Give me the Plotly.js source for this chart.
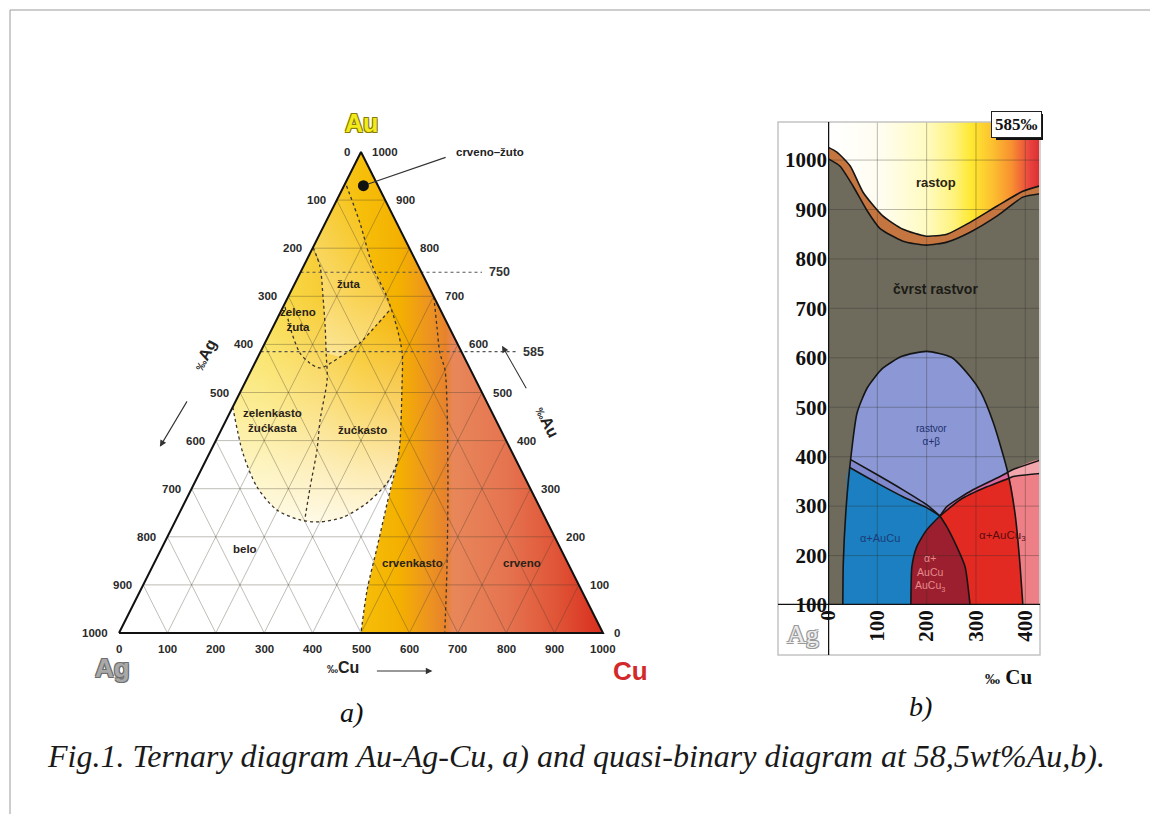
<!DOCTYPE html>
<html><head><meta charset="utf-8">
<script src="https://cdn.plot.ly/plotly-3.0.1.min.js"></script>
<style>html,body{margin:0;padding:0;background:#fff}</style>
</head><body>
<div id="chart" style="width:1157px;height:814px"></div>
<script>
// ================= a) ternary diagram Au-Ag-Cu (values in per mille) =================
const edgeTicks = [0,100,200,300,400,500,600,700,800,900,1000];
const gridVals  = [100,200,300,400,500,600,700,800,900];
// colour-zone boundaries, points given as ‰Au / ‰Cu
const bndC_au = [930,852,761,699,636,582,505,395,353,312,270,179,89,0];
const bndC_cu = [5,72,144,204,256,294,332,383,398,408,419,444,468,500];
const bndD_au = [699,636,582,547,339,131,0];
const bndD_cu = [301,339,372,400,510,612,673];
const bndE_au = [470,374,304,256,235,231,241,270,312,353];
const bndE_cu = [0,69,133,198,257,300,343,377,398,398];
const bndA_au = [802,761,699,636,582,526,443,380,304,233];
const bndA_cu = [0,35,72,108,137,167,194,219,243,267];
const bndB_au = [678,624,582,561,551,574,603,640,672];
const bndB_cu = [4,45,83,114,140,170,196,212,224];
const levelAu    = [750,585];
const levelEndCu = [375,528];
const levelText  = ['750','585'];
const redYellowAu = 930, redYellowCu = 40;
const zoneNames = ['žuta','zeleno<br>žuta','zelenkasto<br>žućkasta','žućkasto','belo','crvenkasto','crveno'];
const zoneAu    = [726,651,441,422,175,146,146];
const zoneCu    = [112,45,96,293,172,534,760];

// ================= b) quasi-binary section at 585 ‰ Au =================
const cuTicks2  = [0,100,200,300,400];
const tempTicks = [100,200,300,400,500,600,700,800,900,1000];
const cuLiq = [0,18,45,71,111,152,199,241,288,343,395,430];
const tLiq  = [1026,1016,988,935,887,860,846,850,874,907,937,948];
const cuSol = [0,24,51,79,105,152,199,241,288,343,395,430];
const tSol  = [1003,988,947,898,862,836,828,834,854,887,925,932];
const domeLcu = [30,30,31,36,44,59,80,110,150,200];
const domeLt  = [90,100,185,286,378,489,540,578,603,613];
const domeRcu = [200,250,288,310,335,363,379,389,395,396];
const domeRt  = [613,601,562,530,469,374,286,185,100,90];
const blueUpCu = [44,99,152,200,227];
const blueUpT  = [378,347,319,297,280];
const bandUpCu = [46,99,152,200,227];
const bandUpT  = [394,364,333,303,280];
const dRedLcu = [227,200,180,170,168,168];
const dRedLt  = [280,252,218,177,100,90];
const dRedRcu = [227,241,261,278,288,289];
const dRedRt  = [280,258,218,177,100,90];
const pinkUpCu = [227,241,294,349,364,375,430];
const pinkUpT  = [280,299,333,360,368,374,393];
const pinkLoCu = [227,268,322,366,375,430];
const pinkLoT  = [280,313,339,356,360,366];

// ---------- helpers ----------
const tx = (au,cu) => cu + au/2;           // horizontal position in the (stretched) triangle
function tern(auArr, cuArr){ return {x: auArr.map((a,i)=>tx(a,cuArr[i])), y: auArr.slice()}; }
const rev = a => a.slice().reverse();
const traces = [];

// ---------- left panel ----------
{
  const au = [470,1000,0, ...rev(bndC_au.slice(8)), ...rev(bndE_au.slice(0,-1))];
  const cu = [0,0,1000, ...rev(bndC_cu.slice(8)), ...rev(bndE_cu.slice(0,-1))];
  const p = tern(au,cu);
  traces.push({type:'scatter', mode:'lines', x:p.x, y:p.y, fill:'toself', line:{width:0},
    fillgradient:{type:'horizontal', start:0, stop:1000, colorscale:[
      [0,'#fcee7c'],[0.30,'#f9e04e'],[0.42,'#f7cc36'],[0.50,'#f6bf0a'],[0.58,'#f4b000'],
      [0.64,'#ed9420'],[0.675,'#e7822c'],[0.69,'#e8875a'],[0.80,'#e57450'],[0.90,'#e05638'],[1,'#d92e1e']]},
    hoverinfo:'skip'});
}
{
  const au = [470,700, ...bndC_au.slice(3,9), ...rev(bndE_au.slice(0,-1))];
  const cu = [0,0, ...bndC_cu.slice(3,9), ...rev(bndE_cu.slice(0,-1))];
  const p = tern(au,cu);
  traces.push({type:'scatter', mode:'lines', x:p.x, y:p.y, fill:'toself', line:{width:0},
    fillgradient:{type:'vertical', start:231, stop:700, colorscale:[
      [0,'rgba(255,253,243,0.93)'],[0.25,'rgba(255,251,236,0.72)'],[0.55,'rgba(255,249,225,0.42)'],[1,'rgba(255,248,220,0)']]},
    hoverinfo:'skip'});
}
{
  const au = [...bndA_au.slice(0,5), ...bndB_au.slice(5), ...rev(bndC_au.slice(0,4)), 802];
  const cu = [...bndA_cu.slice(0,5), ...bndB_cu.slice(5), ...rev(bndC_cu.slice(0,4)), 0];
  const p = tern(au,cu);
  traces.push({type:'scatter', mode:'lines', x:p.x, y:p.y, fill:'toself', line:{width:0},
    fillgradient:{type:'vertical', start:550, stop:930, colorscale:[
      [0,'rgba(255,246,215,0.5)'],[0.5,'rgba(255,246,215,0.3)'],[1,'rgba(255,246,215,0)']]},
    hoverinfo:'skip'});
}
{
  const gx=[], gy=[];
  const add=(a1,c1,a2,c2)=>{gx.push(tx(a1,c1),tx(a2,c2),null); gy.push(a1,a2,null);};
  gridVals.forEach(v=>{ add(v,0,v,1000-v); add(0,v,1000-v,v); add(0,1000-v,1000-v,0); });
  traces.push({type:'scatter', mode:'lines', x:gx, y:gy, line:{color:'rgba(70,62,45,0.38)', width:0.9}, hoverinfo:'skip'});
}
[[bndA_au,bndA_cu],[bndB_au,bndB_cu],[bndC_au,bndC_cu],[bndD_au,bndD_cu],[bndE_au,bndE_cu]].forEach(b=>{
  const p = tern(b[0],b[1]);
  traces.push({type:'scatter', mode:'lines', x:p.x, y:p.y, line:{color:'#3b342a', width:1.3, dash:'dot', shape:'spline', smoothing:0.8}, hoverinfo:'skip'});
});
levelAu.forEach((a,i)=>{
  traces.push({type:'scatter', mode:'lines', x:[tx(a,0), tx(a,levelEndCu[i])], y:[a,a],
    line:{color:'#555', width:1.1, dash:'dot'}, hoverinfo:'skip'});
});
{
  const p = tern([0,1000,0,0],[0,0,1000,0]);
  traces.push({type:'scatter', mode:'lines', x:p.x, y:p.y, line:{color:'#111', width:2}, hoverinfo:'skip'});
}
traces.push({type:'scatter', mode:'markers', x:[tx(redYellowAu,redYellowCu)], y:[redYellowAu],
  marker:{color:'#111', size:11}, hoverinfo:'skip'});

// ---------- right panel ----------
const R = {xaxis:'x2', yaxis:'y2', hoverinfo:'skip'};
function fillPoly(xs, ys, color, extra){
  traces.push(Object.assign({type:'scatter', mode:'lines', x:xs, y:ys, fill:'toself', fillcolor:color,
    line:{width:0, shape:'spline', smoothing:0.6}}, R, extra||{}));
}
fillPoly([...cuLiq,430,0],[...tLiq,1100,1100],'#fff',{fillgradient:{type:'horizontal',start:0,stop:428,colorscale:[
  [0,'#ffffff'],[0.25,'#fffdf0'],[0.47,'#fffbc0'],[0.6,'#fff27a'],[0.68,'#ffe830'],[0.78,'#fcc030'],[0.87,'#f89030'],[0.96,'#e84040'],[1,'#dc3030']]}});
fillPoly([...cuSol,430,0],[...tSol,90,90],'#6e6b5d');
fillPoly([...cuLiq, ...rev(cuSol)],[...tLiq, ...rev(tSol)],'#c57640');
fillPoly([...domeLcu, ...domeRcu.slice(1)],[...domeLt, ...domeRt.slice(1)],'#8b98d5');
fillPoly([...pinkUpCu.slice(4),430, ...rev(domeRcu.slice(5)), pinkLoCu[3]],
         [...pinkUpT.slice(4),90, ...rev(domeRt.slice(5)), pinkLoT[3]],'#ee7f86');
fillPoly([...pinkUpCu.slice(4), ...rev(pinkLoCu.slice(3))],[...pinkUpT.slice(4), ...rev(pinkLoT.slice(3))],'#f3a7ad');
fillPoly([...pinkUpCu.slice(0,5), ...rev(pinkLoCu.slice(0,4))],[...pinkUpT.slice(0,5), ...rev(pinkLoT.slice(0,4))],'#d76aa5');
fillPoly([...pinkLoCu.slice(0,4), ...domeRcu.slice(6), ...rev(dRedRcu.slice(1))],
         [...pinkLoT.slice(0,4), ...domeRt.slice(6), ...rev(dRedRt.slice(1))],'#e22a22');
fillPoly([...dRedRcu, ...rev(dRedLcu)],[...dRedRt, ...rev(dRedLt)],'#9b1f2e');
fillPoly([...domeLcu.slice(0,5), ...blueUpCu.slice(1), ...dRedLcu.slice(1)],
         [...domeLt.slice(0,5), ...blueUpT.slice(1), ...dRedLt.slice(1)],'#1b7fc1');
fillPoly([...bandUpCu, ...rev(blueUpCu)],[...bandUpT, ...rev(blueUpT)],'#7f88cc');
{
  const gx=[], gy=[];
  tempTicks.forEach(t=>{gx.push(0,430,null); gy.push(t,t,null);});
  cuTicks2.slice(1).forEach(c=>{gx.push(c,c,null); gy.push(90,1100,null);});
  traces.push(Object.assign({type:'scatter', mode:'lines', x:gx, y:gy, line:{color:'rgba(45,45,35,0.33)', width:1}}, R));
}
[[cuLiq,tLiq],[cuSol,tSol],[[...domeLcu, ...domeRcu.slice(1)],[...domeLt, ...domeRt.slice(1)]],
 [blueUpCu,blueUpT],[bandUpCu,bandUpT],[dRedLcu,dRedLt],[dRedRcu,dRedRt],[pinkUpCu,pinkUpT],[pinkLoCu,pinkLoT]]
 .forEach(c=>{
  traces.push(Object.assign({type:'scatter', mode:'lines', x:c[0], y:c[1], line:{color:'#151515', width:1.6, shape:'spline', smoothing:0.6}}, R));
});

// ---------- layout geometry ----------
const W=1157, H=814;
const TRI = {px0:119, sx:0.484, py0:633, sy:0.481};
const xDom1=[0,0.62];
const xRange1=[(xDom1[0]*W-TRI.px0)/TRI.sx, (xDom1[1]*W-TRI.px0)/TRI.sx];
const yRange1=[(TRI.py0-H)/TRI.sy, TRI.py0/TRI.sy];
const BIN = {px0:828, s:0.4933, pyBase:605, pyTop:122};
const xRange2=[0,428], yRange2=[100,1077];
const xDom2=[BIN.px0/W, (BIN.px0+xRange2[1]*BIN.s)/W];
const yDom2=[1-BIN.pyBase/H, 1-BIN.pyTop/H];
const px = v=>v/W, py = v=>1-v/H;

const sans = 'Liberation Sans, Arial, sans-serif';
const serif = 'Liberation Serif, Times New Roman, serif';
const ann = [];
const tickFont = {family:sans,size:11.5,color:'#2a2a2a',weight:'bold'};
edgeTicks.forEach(v=>{
  ann.push({xref:'x',yref:'y',x:tx(1000-v,0),y:1000-v,text:String(v),showarrow:false,xanchor:'right',yanchor:'middle',xshift:-9,font:tickFont});
  ann.push({xref:'x',yref:'y',x:tx(v,1000-v),y:v,text:String(v),showarrow:false,xanchor:'left',yanchor:'middle',xshift:9,font:tickFont});
  ann.push({xref:'x',yref:'y',x:tx(0,v),y:0,text:String(v),showarrow:false,xanchor:'center',yanchor:'top',yshift:-8,font:tickFont});
});
ann.push({xref:'x',yref:'y',x:tx(1000,0),y:1000,yshift:29,text:'Au',showarrow:false,xanchor:'center',yanchor:'middle',
  font:{family:sans,size:25,color:'#f3ea1c',weight:'bold',shadow:'1px 1px 0 #8a7c00, -1px -1px 0 #8a7c00, 1px -1px 0 #8a7c00, -1px 1px 0 #8a7c00'}});
ann.push({xref:'x',yref:'y',x:tx(0,0),y:0,xshift:-7,yshift:-35,text:'Ag',showarrow:false,xanchor:'center',yanchor:'middle',
  font:{family:sans,size:26,color:'#a9a9a9',weight:'bold',shadow:'1px 1px 0 #6e6e6e, -1px -1px 0 #6e6e6e, 1px -1px 0 #6e6e6e, -1px 1px 0 #6e6e6e'}});
ann.push({xref:'x',yref:'y',x:tx(0,1000),y:0,xshift:27,yshift:-38,text:'Cu',showarrow:false,xanchor:'center',yanchor:'middle',
  font:{family:sans,size:26,color:'#d22a2a',weight:'bold'}});
ann.push({xref:'x',yref:'y',x:tx(578,-111),y:578,text:'<span style="font-size:11px">‰</span>Ag',textangle:-63,showarrow:false,
  font:{family:sans,size:16,color:'#222',weight:'bold'}});
ann.push({xref:'x',yref:'y',x:tx(439,664),y:439,text:'<span style="font-size:11px">‰</span>Au',textangle:63,showarrow:false,
  font:{family:sans,size:16,color:'#222',weight:'bold'}});
ann.push({xref:'x',yref:'y',x:tx(-71,498),y:-71,text:'<span style="font-size:11px">‰</span>Cu',showarrow:false,
  font:{family:sans,size:16,color:'#222',weight:'bold'}});
ann.push({xref:'x',yref:'y',x:tx(387,-109),y:387,ax:28,ay:-47,text:'',showarrow:true,arrowhead:2,arrowsize:1.2,arrowwidth:1.1,arrowcolor:'#333'});
ann.push({xref:'x',yref:'y',x:tx(597,493),y:597,ax:25,ay:44,text:'',showarrow:true,arrowhead:2,arrowsize:1.2,arrowwidth:1.1,arrowcolor:'#333'});
ann.push({xref:'x',yref:'y',x:tx(-79,687),y:-79,ax:-57,ay:0,text:'',showarrow:true,arrowhead:2,arrowsize:1.2,arrowwidth:1.1,arrowcolor:'#333'});
levelAu.forEach((a,i)=>ann.push({xref:'x',yref:'y',x:tx(a,levelEndCu[i]),y:a,xshift:5,xanchor:'left',text:levelText[i],showarrow:false,
  font:{family:sans,size:12.5,color:'#333',weight:'bold'}}));
zoneNames.forEach((n,i)=>ann.push({xref:'x',yref:'y',x:tx(zoneAu[i],zoneCu[i]),y:zoneAu[i],text:n,showarrow:false,
  font:{family:sans,size:11.5,color:'#2a2218',weight:'bold'}}));
ann.push({xref:'x',yref:'y',x:tx(redYellowAu,redYellowCu),y:redYellowAu,axref:'x',ayref:'y',ax:678,ay:990,text:'',showarrow:true,
  arrowhead:0,arrowwidth:1.2,arrowcolor:'#333',standoff:5});
ann.push({xref:'x',yref:'y',x:692,y:1000,xanchor:'left',text:'crveno–žuto',showarrow:false,
  font:{family:sans,size:11.5,color:'#222',weight:'bold'}});

const rtxt=(x,y,t,font)=>ann.push({xref:'x2',yref:'y2',x:x,y:y,text:t,showarrow:false,xanchor:'center',yanchor:'middle',font:font});
rtxt(219,955,'rastop',{family:sans,size:13,color:'#2b2410',weight:'bold'});
rtxt(217,739,'čvrst rastvor',{family:sans,size:14,color:'#1d1b15',weight:'bold'});
rtxt(209,443,'rastvor<br>α+β',{family:sans,size:10,color:'#22306e'});
rtxt(106,236,'α+AuCu',{family:sans,size:11,color:'#1b3c78'});
rtxt(353,240,'α+AuCu<sub>3</sub>',{family:sans,size:11.5,color:'#5e0c10'});
rtxt(207,165,'α+<br>AuCu<br>AuCu<sub>3</sub>',{family:sans,size:10.5,color:'#e58a8e'});
const pann=(x,y,t,font,extra)=>ann.push(Object.assign({xref:'paper',yref:'paper',x:px(x),y:py(y),text:t,showarrow:false,
  xanchor:'center',yanchor:'middle',font:font},extra||{}));
pann(1016,125,'585‰',{family:serif,size:17,color:'#111',weight:'bold'},{bgcolor:'#fff',bordercolor:'#222',borderwidth:1,borderpad:3});
pann(803,634,'Ag',{family:serif,size:26,color:'#ececec',shadow:'1px 1px 0 #999, -1px -1px 0 #999, 1px -1px 0 #999, -1px 1px 0 #999'});
pann(1008,677,'<span style="font-size:15px">‰</span> Cu',{family:serif,size:21,color:'#111',weight:'bold'});
pann(352,712,'a)',{family:serif,size:28,color:'#111',style:'italic'});
pann(920,706,'b)',{family:serif,size:28,color:'#111',style:'italic'});
pann(576,756,'Fig.1. Ternary diagram Au-Ag-Cu, a) and quasi-binary diagram at 58,5wt%Au,b).',{family:serif,size:32,color:'#1a1a1a',style:'italic'});

const shapes = [
  {type:'line',xref:'paper',yref:'paper',x0:px(10),x1:px(1150),y0:py(10),y1:py(10),line:{color:'#9a9a9a',width:1}},
  {type:'line',xref:'paper',yref:'paper',x0:px(10),x1:px(10),y0:py(10),y1:0,line:{color:'#9a9a9a',width:1}},
  {type:'rect',xref:'paper',yref:'paper',x0:px(778),x1:px(1040),y0:py(655),y1:py(122),line:{color:'#c4c4c4',width:1.5},layer:'above'},
  {type:'line',xref:'x2',yref:'paper',x0:0,x1:0,y0:py(655),y1:py(122),line:{color:'#111',width:2.5},layer:'above'},
  {type:'line',xref:'paper',yref:'y2',x0:px(778),x1:px(1040),y0:100,y1:100,line:{color:'#111',width:2.5},layer:'above'},
  {type:'rect',xref:'paper',yref:'paper',x0:px(996),x1:px(1043),y0:py(140),y1:py(114),fillcolor:'#111',line:{width:0},layer:'above'}
];

const layout = {
  width:W, height:H, margin:{l:0,r:0,t:0,b:0}, paper_bgcolor:'#fff', plot_bgcolor:'rgba(0,0,0,0)', showlegend:false,
  xaxis:{domain:xDom1, range:xRange1, visible:false, fixedrange:true},
  yaxis:{domain:[0,1], range:yRange1, visible:false, fixedrange:true},
  xaxis2:{domain:xDom2, range:xRange2, anchor:'y2', tickvals:cuTicks2, ticktext:cuTicks2.map(String), tickangle:-90,
    showgrid:false, zeroline:false, showline:false, ticks:'', fixedrange:true,
    tickfont:{family:serif,size:21,color:'#111',weight:'bold'}},
  yaxis2:{domain:yDom2, range:yRange2, anchor:'x2', tickvals:tempTicks, ticktext:tempTicks.map(String),
    showgrid:false, zeroline:false, showline:false, ticks:'', fixedrange:true,
    tickfont:{family:serif,size:21,color:'#111',weight:'bold'}},
  annotations:ann, shapes:shapes
};
Plotly.newPlot('chart', traces, layout, {staticPlot:true, displayModeBar:false});
</script>
</body></html>
